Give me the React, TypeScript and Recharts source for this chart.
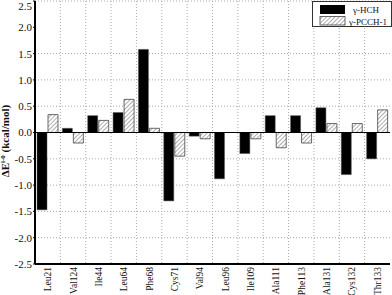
import { BarChart, Bar, XAxis, YAxis, CartesianGrid, ReferenceLine, Legend } from "recharts"

const residues = [
  "Leu21", "Val124", "Ile44", "Leu64", "Phe68", "Cys71", "Val94",
  "Leu96", "Ile109", "Ala111", "Phe113", "Ala131", "Cys132", "Thr133",
]
const hch = [-1.47, 0.08, 0.32, 0.38, 1.58, -1.3, -0.07, -0.88, -0.4, 0.32, 0.32, 0.47, -0.8, -0.5]
const pcch = [0.34, -0.2, 0.23, 0.63, 0.08, -0.45, -0.12, 0, -0.12, -0.29, -0.2, 0.17, 0.17, 0.43]
const yTicks = [-2.5, -2.0, -1.5, -1.0, -0.5, 0.0, 0.5, 1.0, 1.5, 2.0, 2.5]

const data = residues.map((name, i) => ({ name, hch: hch[i], pcch: pcch[i] }))

const FONT = "'Liberation Serif', 'DejaVu Serif', serif"

function YLabel() {
  return (
    <text
      x={9}
      y={141}
      transform="rotate(-90 9 141)"
      textAnchor="middle"
      fontFamily={FONT}
      fontSize={11}
      fontWeight="bold"
      fill="#111"
    >
      ΔE<tspan fontSize={7} dy={-4}>i-0</tspan>
      <tspan dy={4}> (kcal/mol)</tspan>
    </text>
  )
}

function LegendBox() {
  return (
    <svg width={80} height={27} style={{ display: "block" }}>
      <rect x={0.5} y={0.5} width={79} height={25} fill="#fff" stroke="#333" />
      <rect x={8} y={4} width={25} height={9} fill="#000" />
      <rect x={8} y={15.5} width={25} height={8.5} fill="url(#hatch)" stroke="#444" strokeWidth={0.8} />
      <text x={54} y={12} textAnchor="middle" fontFamily={FONT} fontSize={9} fill="#111">γ-HCH</text>
      <text x={56} y={23.5} textAnchor="middle" fontFamily={FONT} fontSize={9} fill="#111">γ-PCCH-1</text>
    </svg>
  )
}

function XTick({ x, y, payload }: any) {
  return (
    <text
      x={x}
      y={y}
      transform={`rotate(-90 ${x} ${y})`}
      dy={3.5}
      dx={-3}
      textAnchor="end"
      fontFamily={FONT}
      fontSize={9.5}
      fill="#111"
    >
      {payload.value}
    </text>
  )
}

export default function App() {
  return (
    <div style={{ position: "absolute", left: 0, top: 0, width: 392, height: 295, background: "#fff" }}>
      <BarChart
        width={392}
        height={295}
        data={data}
        margin={{ top: 1, right: 2, left: 0, bottom: 0 }}
        barGap={1}
        barSize={10}
      >
        <defs>
          <pattern id="hatch" width={3} height={3} patternUnits="userSpaceOnUse" patternTransform="rotate(45)">
            <rect width={3} height={3} fill="#fff" />
            <line x1={0} y1={0} x2={0} y2={3} stroke="#777" strokeWidth={1.2} />
          </pattern>
        </defs>
        <CartesianGrid
          stroke="#aaa"
          strokeDasharray="1 2"
          verticalCoordinatesGenerator={({ offset }: any) =>
            residues.slice(1).map((_, i) => offset.left + ((i + 1) * offset.width) / residues.length)
          }
        />
        <XAxis
          dataKey="name"
          height={31}
          interval={0}
          tickSize={0}
          tickMargin={0}
          tickLine={false}
          axisLine={{ stroke: "#000", strokeWidth: 2 }}
          tick={<XTick />}
        />
        <XAxis xAxisId="top" orientation="top" dataKey="name" height={0} tick={false} tickLine={false} axisLine={{ stroke: "#000", strokeWidth: 1.5 }} />
        <YAxis
          domain={[-2.5, 2.5]}
          ticks={yTicks}
          width={35}
          tickSize={2}
          tickMargin={1}
          tickFormatter={(v: number) => v.toFixed(1)}
          tick={{ fontFamily: FONT, fontSize: 11, fill: "#111" }}
          axisLine={{ stroke: "#000", strokeWidth: 2 }}
          tickLine={{ stroke: "#000" }}
          label={<YLabel />}
        />
        <YAxis yAxisId="right" orientation="right" width={0} tick={false} tickLine={false} axisLine={{ stroke: "#000", strokeWidth: 1.5 }} />
        <ReferenceLine y={0} stroke="#000" strokeWidth={1} />
        <Bar dataKey="hch" name="γ-HCH" fill="#000" stroke="#555" strokeWidth={0.5} isAnimationActive={false} />
        <Bar dataKey="pcch" name="γ-PCCH-1" fill="url(#hatch)" stroke="#444" strokeWidth={0.8} isAnimationActive={false} />
        <Legend
          layout="vertical"
          align="center"
          verticalAlign="middle"
          wrapperStyle={{ top: 1, left: 312, width: 80, height: 27 }}
          content={<LegendBox />}
        />
      </BarChart>
    </div>
  )
}
